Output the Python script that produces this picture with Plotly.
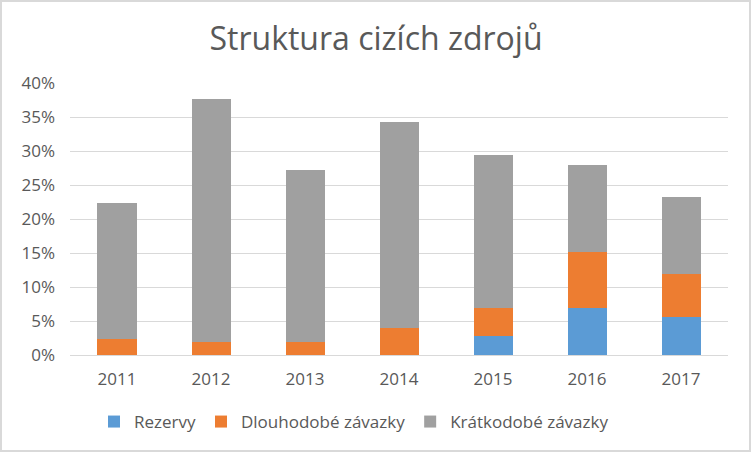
import plotly.graph_objects as go

years = ["2011", "2012", "2013", "2014", "2015", "2016", "2017"]
rezervy = [0.0, 0.0, 0.0, 0.0, 0.028, 0.069, 0.056]
dlouhodobe = [0.024, 0.019, 0.019, 0.039, 0.041, 0.083, 0.063]
kratkodobe = [0.199, 0.357, 0.253, 0.303, 0.225, 0.127, 0.114]
tick_vals = [0, 0.05, 0.10, 0.15, 0.20, 0.25, 0.30, 0.35, 0.40]
tick_text = ["0%", "5%", "10%", "15%", "20%", "25%", "30%", "35%", "40%"]

font_family = "Open Sans, DejaVu Sans, sans-serif"
text_color = "#595959"

fig = go.Figure()
fig.add_trace(go.Bar(x=years, y=rezervy, name="Rezervy",
                     marker=dict(color="#5B9BD5", line=dict(width=0))))
fig.add_trace(go.Bar(x=years, y=dlouhodobe, name="Dlouhodobé závazky",
                     marker=dict(color="#ED7D31", line=dict(width=0))))
fig.add_trace(go.Bar(x=years, y=kratkodobe, name="Krátkodobé závazky",
                     marker=dict(color="#A0A0A0", line=dict(width=0))))

fig.update_layout(
    barmode="stack",
    bargap=0.585,
    width=752, height=452,
    margin=dict(l=70, r=24, t=83, b=97),
    paper_bgcolor="white",
    plot_bgcolor="white",
    font=dict(family=font_family, color=text_color, size=17),
    title=dict(text="Struktura cizích zdrojů", x=0.5, xanchor="center",
               y=1 - 39 / 452, yanchor="middle",
               font=dict(family=font_family, size=32, color=text_color)),
    legend=dict(orientation="h", x=0.5 - 45 / 658, xanchor="center", y=-67 / 272, yanchor="middle",
                font=dict(size=17, color=text_color), traceorder="normal",
                itemwidth=30),
    xaxis=dict(type="category", showgrid=False, showline=False, ticks="",
               ticklabelstandoff=12,
               tickfont=dict(size=17, color=text_color)),
    yaxis=dict(range=[0, 0.40], tickvals=tick_vals, ticktext=tick_text,
               showgrid=True, gridcolor="#D9D9D9", gridwidth=1,
               zeroline=True, zerolinecolor="#D9D9D9", zerolinewidth=1,
               showline=False, ticks="", ticklabelstandoff=14,
               tickfont=dict(size=17, color=text_color)),
    shapes=[dict(type="rect", xref="paper", yref="paper",
                 x0=-69/658, x1=1 + 22/658, y0=-96/272, y1=1 + 82/272,
                 line=dict(color="#D9D9D9", width=2))],
)

fig.write_html("out.html")
